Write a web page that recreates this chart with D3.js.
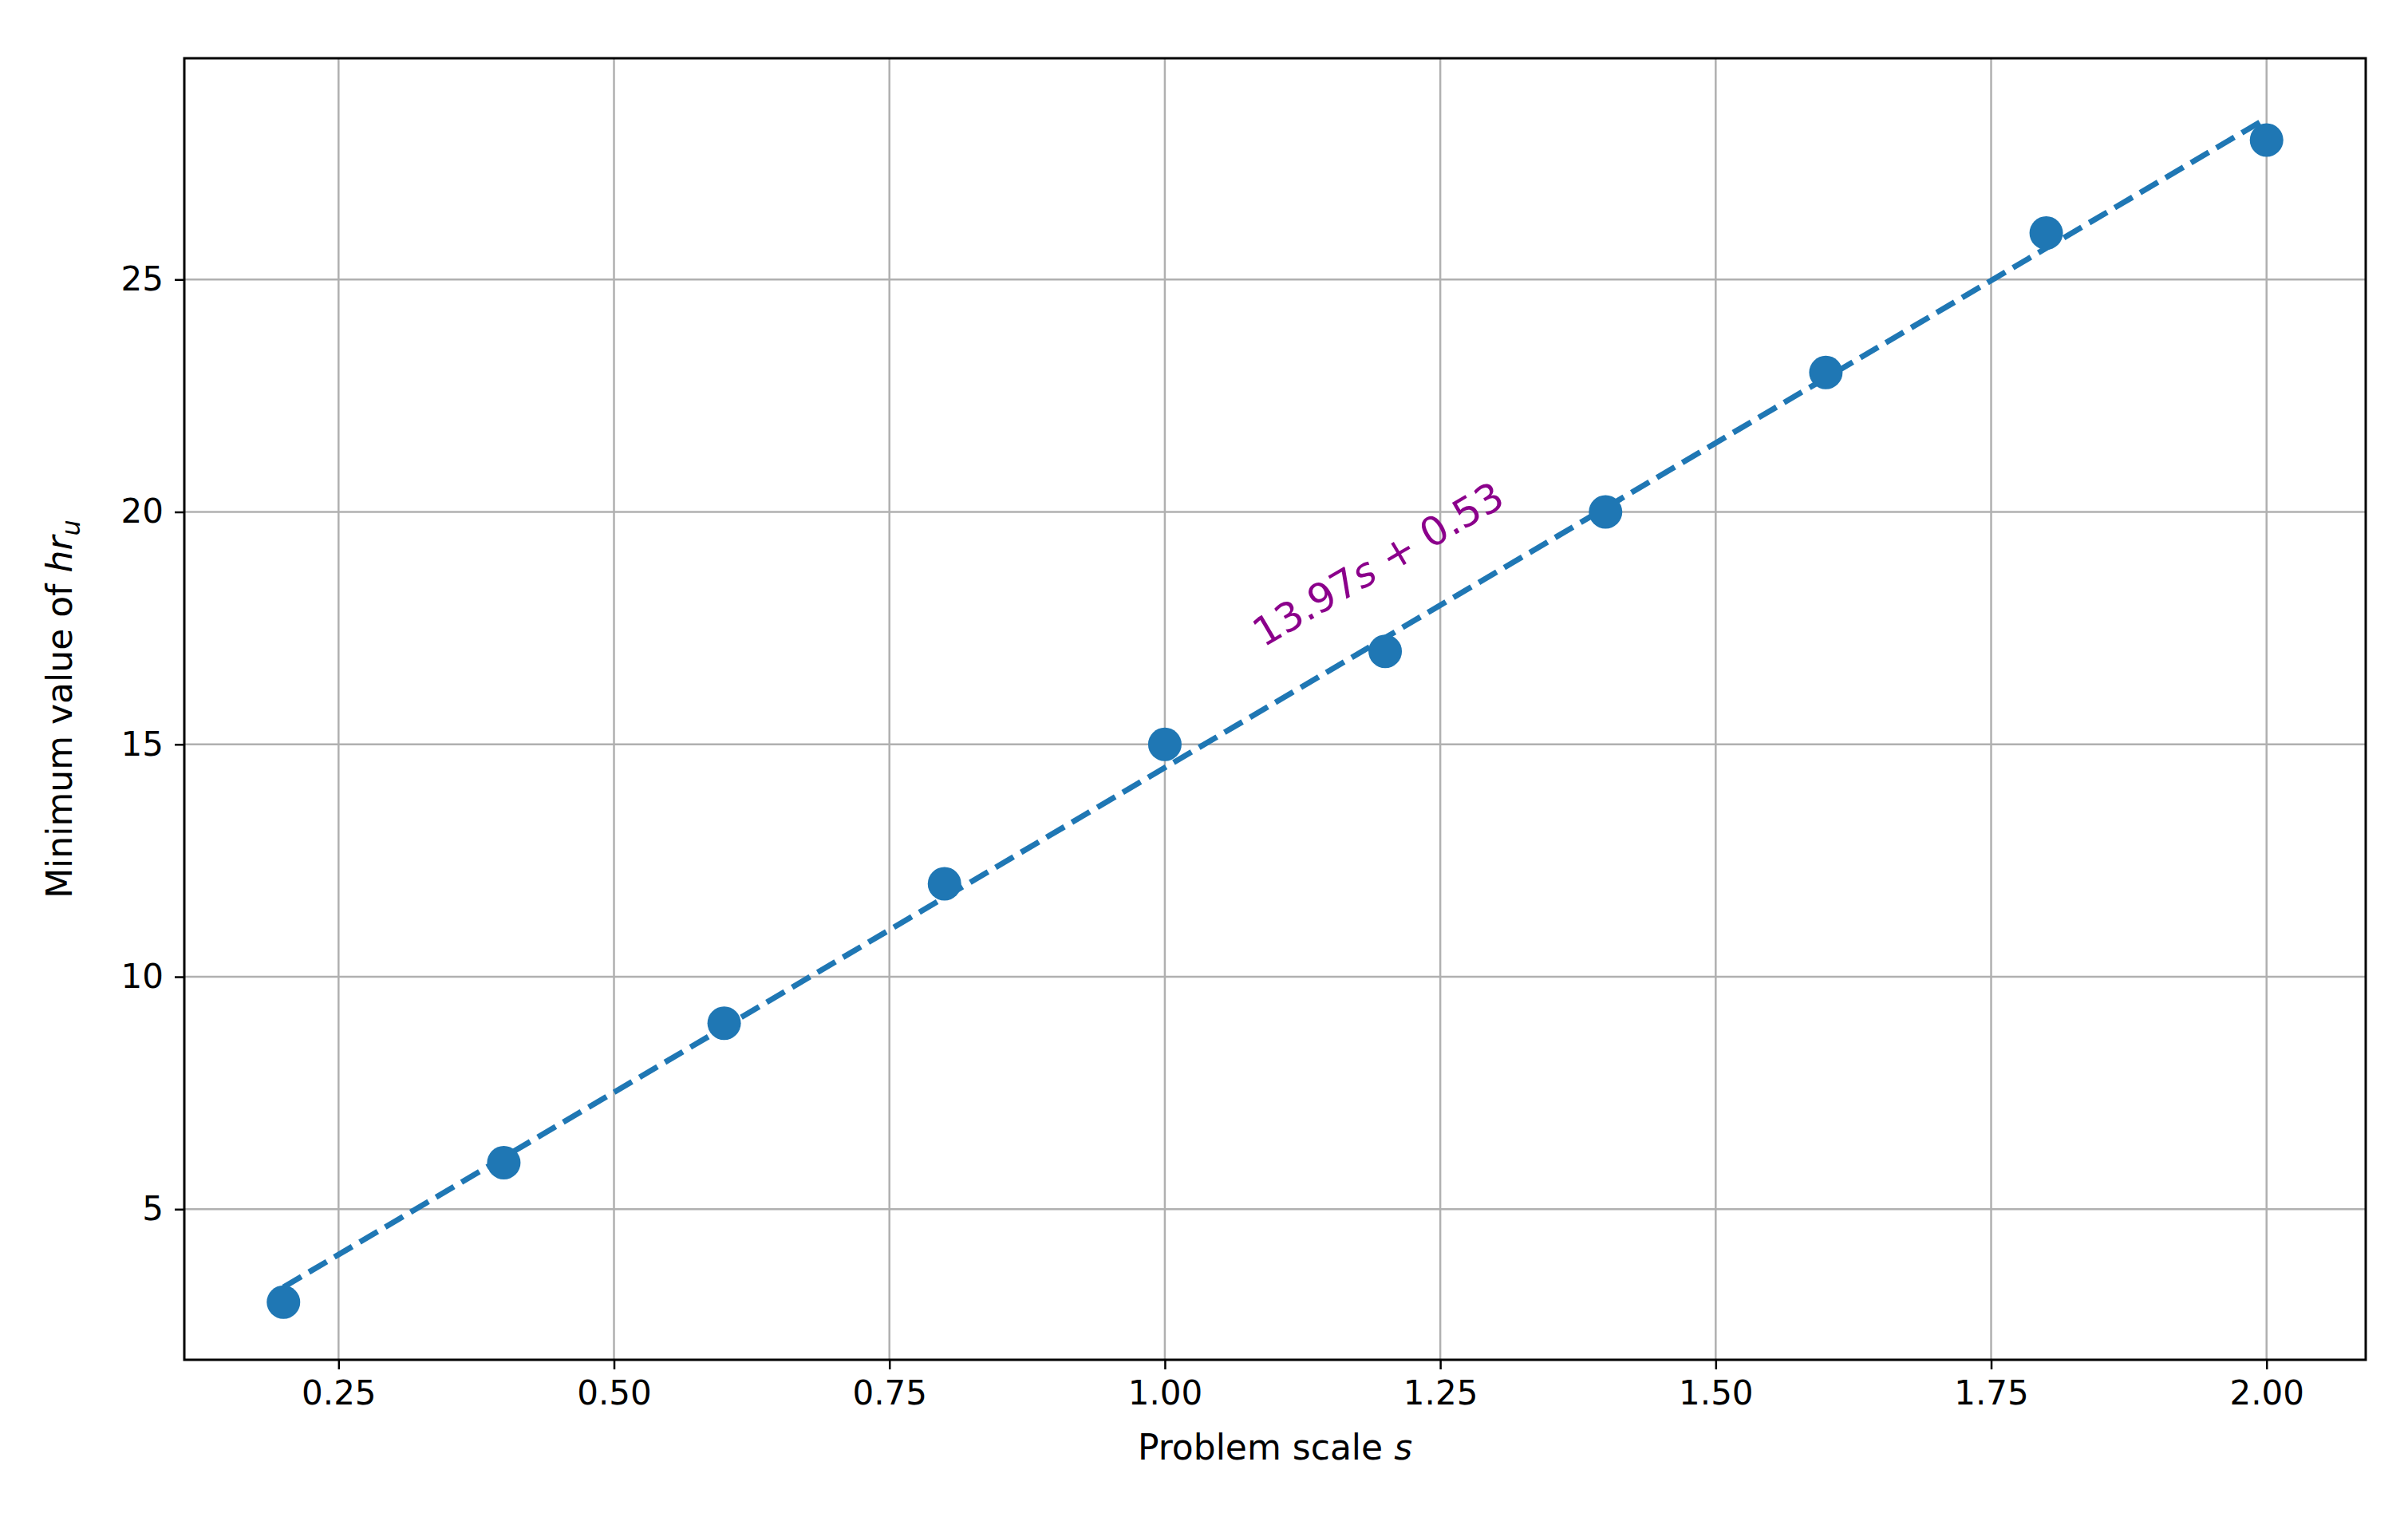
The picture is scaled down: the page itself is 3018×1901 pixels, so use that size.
<!DOCTYPE html>
<html><head><meta charset="utf-8">
<script src="https://cdn.jsdelivr.net/npm/d3@7"></script>
<style>body{margin:0;background:#fff}text{font-family:"DejaVu Sans",sans-serif}</style>
</head><body>
<script>
// data
const scales = [0.2, 0.4, 0.6, 0.8, 1.0, 1.2, 1.4, 1.6, 1.8, 2.0];
const minHr = [3, 6, 9, 12, 15, 17, 20, 23, 26, 28];
const fit = {slope: 13.97, intercept: 0.53};
const xTicks = [0.25, 0.5, 0.75, 1.0, 1.25, 1.5, 1.75, 2.0];
const yTicks = [5, 10, 15, 20, 25];

const width = 3018, height = 1901;
const margin = {top: 73, right: 53, bottom: 197, left: 231};

const svg = d3.select("body").append("svg").attr("width", width).attr("height", height);

const x = d3.scaleLinear().domain([0.11, 2.09]).range([margin.left, width - margin.right]);
const y = d3.scaleLinear().domain([1.76, 29.76]).range([height - margin.bottom, margin.top]);

// grid
svg.append("g").selectAll("line").data(xTicks).join("line")
    .attr("x1", d => x(d)).attr("x2", d => x(d))
    .attr("y1", margin.top).attr("y2", height - margin.bottom)
    .attr("stroke", "#b0b0b0").attr("stroke-width", 2.5);
svg.append("g").selectAll("line").data(yTicks).join("line")
    .attr("y1", d => y(d)).attr("y2", d => y(d))
    .attr("x1", margin.left).attr("x2", width - margin.right)
    .attr("stroke", "#b0b0b0").attr("stroke-width", 2.5);

// axes
const xAxis = svg.append("g")
    .attr("transform", `translate(0,${height - margin.bottom})`)
    .call(d3.axisBottom(x).tickValues(xTicks).tickFormat(d3.format(".2f")).tickSize(12).tickPadding(14));
const yAxis = svg.append("g")
    .attr("transform", `translate(${margin.left},0)`)
    .call(d3.axisLeft(y).tickValues(yTicks).tickFormat(d3.format("d")).tickSize(12).tickPadding(14));
[xAxis, yAxis].forEach(g => {
    g.select(".domain").remove();
    g.selectAll(".tick line").attr("stroke", "#000").attr("stroke-width", 2.5);
    g.selectAll(".tick text").attr("font-size", 42).attr("fill", "#000")
        .style("font-family", "DejaVu Sans");
});

// fit line
const line = d3.line().x(d => x(d)).y(d => y(fit.slope * d + fit.intercept));
svg.append("path")
    .attr("d", line([scales[0], scales[scales.length - 1]]))
    .attr("fill", "none").attr("stroke", "#1f77b4").attr("stroke-width", 7)
    .attr("stroke-dasharray", "26,11");

// points
svg.append("g").selectAll("circle").data(scales).join("circle")
    .attr("cx", d => x(d)).attr("cy", (d, i) => y(minHr[i]))
    .attr("r", 21).attr("fill", "#1f77b4");

// annotation
const ax = 1.2, ay = 18.62;
const angle = -Math.atan2(y(fit.slope * 2 + fit.intercept) - y(fit.slope * 0.2 + fit.intercept),
    x(2) - x(0.2)) * 180 / Math.PI;
const ann = svg.append("text")
    .attr("transform", `translate(${x(ax)},${y(ay)}) rotate(${-angle})`)
    .attr("text-anchor", "middle").attr("font-size", 50).attr("fill", "#8b008b");
ann.append("tspan").text("13.97");
ann.append("tspan").attr("font-style", "italic").text("s");
ann.append("tspan").text(" + 0.53");

// frame
svg.append("rect")
    .attr("x", margin.left).attr("y", margin.top)
    .attr("width", width - margin.left - margin.right)
    .attr("height", height - margin.top - margin.bottom)
    .attr("fill", "none").attr("stroke", "#000").attr("stroke-width", 3);

// axis labels
const xl = svg.append("text")
    .attr("x", (margin.left + width - margin.right) / 2).attr("y", height - 72)
    .attr("text-anchor", "middle").attr("font-size", 44);
xl.append("tspan").text("Problem scale ");
xl.append("tspan").attr("font-style", "italic").text("s");

const yl = svg.append("text")
    .attr("transform", `translate(90,${(margin.top + height - margin.bottom) / 2}) rotate(-90)`)
    .attr("text-anchor", "middle").attr("font-size", 44);
yl.append("tspan").text("Minimum value of ");
yl.append("tspan").attr("font-style", "italic").text("hr");
yl.append("tspan").attr("font-style", "italic").attr("font-size", 32).attr("dy", 10).text("u");
</script>
</body></html>
